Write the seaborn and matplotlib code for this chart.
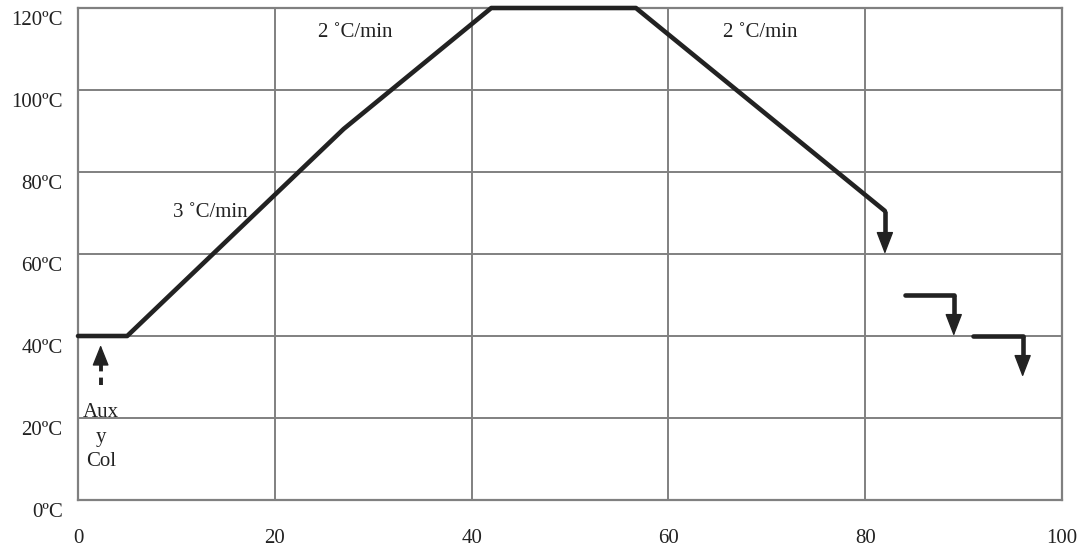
import matplotlib
matplotlib.use("Agg")
import matplotlib.pyplot as plt
import matplotlib.transforms as mtransforms
import seaborn as sns
import pandas as pd

# ---- data ----
ramp_time = [0, 5, 27, 42, 56.7, 82]
ramp_temp = [40, 40, 90.5, 120, 120, 70.5]

# cooling steps: horizontal hold then drop
step_x_start = [82, 84, 91]
step_x_end = [82, 89, 96]
step_level = [70.5, 50, 40]
step_drop_to = [60, 40, 30]

aux_x = 2.3
aux_from = 28
aux_to = 37.8

rate_labels = ["3 ˚C/min", "2 ˚C/min", "2 ˚C/min"]
rate_x = [13.4, 28.2, 69.3]
rate_y = [70.2, 114, 114]

x_ticks = [0, 20, 40, 60, 80, 100]
y_ticks = [0, 20, 40, 60, 80, 100, 120]
y_tick_labels = ["0ºC", "20ºC", "40ºC", "60ºC", "80ºC", "100ºC", "120ºC"]

# ---- style ----
sns.set_theme(style="white")
plt.rcParams["font.family"] = ["Liberation Serif", "DejaVu Serif"]

LINE = "#222222"
GRID = "#808080"
FS = 15

fig = plt.figure(figsize=(10.82, 5.52), dpi=100)
ax = fig.add_axes([78 / 1082, 1 - 500 / 552, (1062 - 78) / 1082, (500 - 8) / 552])

df = pd.DataFrame({"time": ramp_time, "temp": ramp_temp})
sns.lineplot(data=df, x="time", y="temp", sort=False, color=LINE, lw=3.3,
             ax=ax, clip_on=False, zorder=5)

for xs, xe, lv, dt in zip(step_x_start, step_x_end, step_level, step_drop_to):
    seg = pd.DataFrame({"time": [xs, xe], "temp": [lv, lv]})
    if xe > xs:
        sns.lineplot(data=seg, x="time", y="temp", sort=False, color=LINE,
                     lw=3.3, ax=ax, zorder=5)
    # shaft
    ax.plot([xe, xe], [lv, dt + 3], color=LINE, lw=3.3,
            solid_capstyle="butt", zorder=5)
    # head
    ax.annotate("", xy=(xe, dt), xytext=(xe, dt + 3.6),
                arrowprops=dict(arrowstyle="-|>,head_length=0.7,head_width=0.27",
                                lw=1, color=LINE, shrinkA=0, shrinkB=0,
                                mutation_scale=20), zorder=6)

# dashed aux arrow
ax.plot([aux_x, aux_x], [aux_from, aux_to - 4.6], color=LINE, lw=2.8,
        ls=(0, (1.9, 1.6)), solid_capstyle="butt", zorder=5)
ax.annotate("", xy=(aux_x, aux_to), xytext=(aux_x, aux_to - 3.3),
            arrowprops=dict(arrowstyle="-|>,head_length=0.65,head_width=0.26",
                            lw=1, color=LINE, shrinkA=0, shrinkB=0,
                            mutation_scale=20), zorder=6)

ax.text(aux_x, 23.6, "Aux\ny\nCol", ha="center", va="top", fontsize=FS,
        linespacing=1.4, color="#222222")

for lab, x, y in zip(rate_labels, rate_x, rate_y):
    ax.text(x, y, lab, ha="center", va="center", fontsize=FS, color="#222222")

ax.set_xlim(0, 100)
ax.set_ylim(0, 120)
ax.set_xticks(x_ticks)
ax.set_xticklabels([str(v) for v in x_ticks])
ax.set_yticks(y_ticks)
ax.set_yticklabels(y_tick_labels)
ax.set_xlabel("")
ax.set_ylabel("")

ax.grid(True, color=GRID, lw=1.4)
ax.set_axisbelow(True)
for sp in ax.spines.values():
    sp.set_visible(True)
    sp.set_color(GRID)
    sp.set_linewidth(1.6)

ax.tick_params(axis="x", length=0, pad=21, labelsize=FS, labelcolor="#222222")
ax.tick_params(axis="y", length=0, pad=11, labelsize=FS, labelcolor="#222222")

offset = mtransforms.ScaledTranslation(0, -10 / 100, fig.dpi_scale_trans)
for lab in ax.get_yticklabels():
    lab.set_transform(lab.get_transform() + offset)

fig.savefig("out.png", dpi=100)
